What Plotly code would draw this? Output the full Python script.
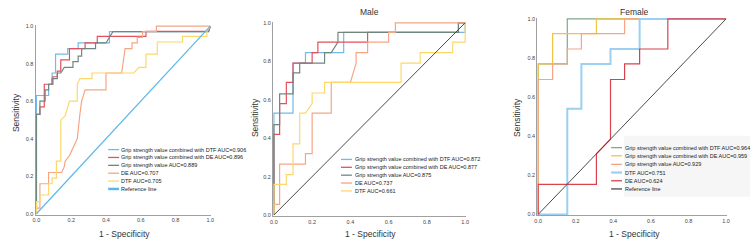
import plotly.graph_objects as go

W, H = 753, 249
FONT = "Arial, Liberation Sans, sans-serif"

tick_vals = [0.0, 0.2, 0.4, 0.6, 0.8, 1.0]
tick_text = ["0.0", "0.2", "0.4", "0.6", "0.8", "1.0"]

# ---------------- Panel 1 (overall) ----------------
p1_labels = [
    "Grip strength value combined with DTF AUC=0.906",
    "Grip strength value combined with DE AUC=0.896",
    "Grip strength value AUC=0.889",
    "DE AUC=0.707",
    "DTF AUC=0.705",
    "Reference line",
]
p1_comb_dtf_x = [0, 0, 0.07, 0.07, 0.09, 0.09, 0.11, 0.11, 0.18, 0.18, 0.24, 0.24, 0.42, 0.42, 0.99, 1.0]
p1_comb_dtf_y = [0, 0.63, 0.63, 0.69, 0.69, 0.75, 0.75, 0.85, 0.85, 0.88, 0.88, 0.91, 0.91, 0.97, 0.97, 1.0]
p1_comb_de_x = [0, 0, 0.02, 0.02, 0.045, 0.045, 0.095, 0.095, 0.12, 0.12, 0.14, 0.14, 0.19, 0.19, 0.28, 0.28, 0.35, 0.35, 0.63, 0.63, 0.99, 1.0]
p1_comb_de_y = [0, 0.53, 0.53, 0.57, 0.57, 0.69, 0.69, 0.73, 0.73, 0.76, 0.76, 0.82, 0.82, 0.88, 0.88, 0.91, 0.91, 0.945, 0.945, 0.972, 0.972, 1.0]
p1_grip_x = [0, 0, 0.02, 0.02, 0.05, 0.05, 0.07, 0.07, 0.09, 0.09, 0.12, 0.12, 0.14, 0.16, 0.21, 0.21, 0.24, 0.24, 0.26, 0.26, 0.34, 0.34, 0.40, 0.44, 0.99, 1.0]
p1_grip_y = [0, 0.53, 0.53, 0.60, 0.60, 0.66, 0.66, 0.69, 0.69, 0.72, 0.72, 0.75, 0.75, 0.78, 0.78, 0.81, 0.81, 0.84, 0.84, 0.88, 0.88, 0.91, 0.91, 0.97, 0.97, 1.0]
p1_de_x = [0, 0, 0.02, 0.02, 0.07, 0.07, 0.145, 0.16, 0.165, 0.19, 0.21, 0.235, 0.25, 0.26, 0.28, 0.30, 0.40, 0.40, 0.49, 0.51, 0.55, 0.55, 0.58, 0.58, 0.61, 0.61, 0.69, 0.69, 1.0]
p1_de_y = [0, 0.03, 0.03, 0.16, 0.16, 0.22, 0.22, 0.25, 0.28, 0.31, 0.35, 0.40, 0.53, 0.60, 0.66, 0.66, 0.66, 0.75, 0.75, 0.88, 0.88, 0.91, 0.91, 0.94, 0.94, 0.97, 0.97, 1.0, 1.0]
p1_dtf_x = [0, 0, 0.02, 0.02, 0.07, 0.07, 0.09, 0.09, 0.115, 0.115, 0.14, 0.14, 0.165, 0.19, 0.235, 0.235, 0.25, 0.32, 0.32, 0.56, 0.59, 0.63, 0.63, 0.695, 0.695, 0.84, 0.84, 0.98, 0.98, 1.0]
p1_dtf_y = [0, 0.065, 0.065, 0.10, 0.10, 0.16, 0.16, 0.19, 0.19, 0.28, 0.28, 0.50, 0.52, 0.60, 0.60, 0.69, 0.72, 0.72, 0.75, 0.75, 0.78, 0.78, 0.85, 0.85, 0.915, 0.915, 0.945, 0.945, 0.97, 1.0]
ref_x = [0, 1]
ref_y = [0, 1]

# ---------------- Panel 2 (male) ----------------
p2_title = "Male"
p2_labels = [
    "Grip strength value combined with DTF AUC=0.872",
    "Grip strength value combined with DE AUC=0.877",
    "Grip strength value AUC=0.875",
    "DE AUC=0.737",
    "DTF AUC=0.661",
]
p2_comb_dtf_x = [0, 0, 0.10, 0.10, 0.165, 0.165, 0.365, 0.365, 1.0, 1.0]
p2_comb_dtf_y = [0, 0.53, 0.53, 0.79, 0.79, 0.845, 0.845, 0.95, 0.95, 1.0]
p2_comb_de_x = [0, 0, 0.03, 0.03, 0.065, 0.065, 0.10, 0.10, 0.20, 0.20, 0.23, 0.23, 0.49, 0.49, 0.965, 0.965, 1.0]
p2_comb_de_y = [0, 0.42, 0.42, 0.58, 0.58, 0.69, 0.69, 0.79, 0.79, 0.845, 0.845, 0.90, 0.90, 0.95, 0.95, 1.0, 1.0]
p2_grip_x = [0, 0, 0.03, 0.03, 0.10, 0.10, 0.135, 0.135, 0.265, 0.265, 0.30, 0.335, 0.335, 0.965, 0.965, 1.0]
p2_grip_y = [0, 0.47, 0.47, 0.63, 0.63, 0.74, 0.74, 0.79, 0.79, 0.845, 0.845, 0.90, 0.95, 0.95, 1.0, 1.0]
p2_de_x = [0, 0, 0.03, 0.03, 0.165, 0.165, 0.20, 0.20, 0.30, 0.30, 0.40, 0.43, 0.43, 0.49, 0.49, 0.60, 0.60, 0.635, 0.635, 1.0]
p2_de_y = [0, 0.055, 0.055, 0.265, 0.265, 0.32, 0.32, 0.53, 0.53, 0.69, 0.69, 0.79, 0.845, 0.845, 0.90, 0.90, 0.95, 0.95, 1.0, 1.0]
p2_dtf_x = [0, 0, 0.065, 0.065, 0.10, 0.10, 0.135, 0.135, 0.165, 0.20, 0.20, 0.265, 0.265, 0.665, 0.665, 0.765, 0.765, 0.935, 0.935, 1.0, 1.0]
p2_dtf_y = [0, 0.16, 0.16, 0.21, 0.21, 0.37, 0.37, 0.53, 0.53, 0.58, 0.635, 0.635, 0.69, 0.69, 0.79, 0.79, 0.845, 0.845, 0.90, 0.90, 1.0]

# ---------------- Panel 3 (female) ----------------
p3_title = "Female"
p3_labels = [
    "Grip strength value combined with DTF AUC=0.964",
    "Grip strength value combined with DE AUC=0.959",
    "Grip strength value AUC=0.929",
    "DTF AUC=0.751",
    "DE AUC=0.624",
    "Reference line",
]
p3_comb_dtf_x = [0, 0, 0.155, 0.155, 1.0]
p3_comb_dtf_y = [0, 0.77, 0.77, 1.0, 1.0]
p3_comb_de_x = [0, 0, 0.077, 0.077, 0.31, 0.31, 1.0]
p3_comb_de_y = [0, 0.77, 0.77, 0.925, 0.925, 1.0, 1.0]
p3_grip_x = [0, 0, 0.077, 0.077, 0.155, 0.155, 0.23, 0.23, 0.46, 0.46, 1.0]
p3_grip_y = [0, 0.69, 0.69, 0.77, 0.77, 0.846, 0.846, 0.925, 0.925, 1.0, 1.0]
p3_dtf_x = [0, 0.155, 0.155, 0.23, 0.23, 0.385, 0.385, 0.54, 0.54, 1.0]
p3_dtf_y = [0, 0, 0.54, 0.54, 0.77, 0.77, 0.846, 0.846, 1.0, 1.0]
p3_de_x = [0, 0, 0.31, 0.31, 0.385, 0.385, 0.46, 0.46, 0.54, 0.54, 0.69, 0.69, 1.0]
p3_de_y = [0, 0.154, 0.154, 0.31, 0.385, 0.69, 0.69, 0.77, 0.77, 0.846, 0.846, 1.0, 1.0]

# ---------------- styling ----------------
C_BLUE = "#74b9e7"
C_RED = "#e4505b"
C_GRAYGREEN = "#6f877e"
C_ORANGE = "#f6a585"
C_YELLOW = "#fcd86c"
C_REF1 = "#5cb7e8"
C_DARK = "#4a4a4a"
C_GREEN3 = "#7fa88a"
C_GOLD3 = "#f3c347"
C_LBLUE3 = "#9ccff2"
C_RED3 = "#d8424f"

# draw order follows legend order (later on top)
p1_series = [
    (p1_comb_dtf_x, p1_comb_dtf_y, C_BLUE, 1.2),
    (p1_comb_de_x, p1_comb_de_y, C_RED, 1.2),
    (p1_grip_x, p1_grip_y, C_GRAYGREEN, 1.2),
    (p1_de_x, p1_de_y, C_ORANGE, 1.2),
    (p1_dtf_x, p1_dtf_y, C_YELLOW, 1.2),
    (ref_x, ref_y, C_REF1, 1.2),
]
p1_leg_colors = [(C_BLUE, 1.3), (C_RED, 1.3), (C_GRAYGREEN, 1.3), (C_ORANGE, 1.3), (C_YELLOW, 1.3), (C_REF1, 2.5)]

p2_series = [
    (p2_comb_dtf_x, p2_comb_dtf_y, C_BLUE, 1.2),
    (p2_comb_de_x, p2_comb_de_y, C_RED, 1.2),
    (p2_grip_x, p2_grip_y, C_GRAYGREEN, 1.2),
    (p2_de_x, p2_de_y, C_ORANGE, 1.2),
    (p2_dtf_x, p2_dtf_y, C_YELLOW, 1.2),
    (ref_x, ref_y, C_DARK, 1.0),
]
p2_leg_colors = [(C_BLUE, 1.3), (C_RED, 1.3), (C_GRAYGREEN, 1.3), (C_ORANGE, 1.3), (C_YELLOW, 1.3)]

p3_series = [
    (p3_comb_dtf_x, p3_comb_dtf_y, C_GREEN3, 1.2),
    (p3_comb_de_x, p3_comb_de_y, C_GOLD3, 1.2),
    (p3_grip_x, p3_grip_y, C_ORANGE, 1.2),
    (p3_dtf_x, p3_dtf_y, C_LBLUE3, 2.0),
    (p3_de_x, p3_de_y, C_RED3, 1.2),
    (ref_x, ref_y, C_DARK, 1.0),
]
p3_leg_colors = [(C_GREEN3, 1.3), (C_GOLD3, 1.3), (C_ORANGE, 1.3), (C_LBLUE3, 2.2), (C_RED3, 1.3), (C_DARK, 1.3)]


def px(x):
    return x / W


def py(y):
    return 1 - y / H


fig = go.Figure()

panels = [
    (p1_series, "", (33, 210), (23.3, 216)),
    (p2_series, "2", (272.3, 467), (20, 217.3)),
    (p3_series, "3", (538.7, 730), (16, 216.7)),
]

layout_axes = {}
for series, suf, (x0, x1), (y0, y1) in panels:
    for xs, ys, col, w in series:
        fig.add_trace(go.Scatter(
            x=xs, y=ys, mode="lines", line=dict(color=col, width=w),
            xaxis="x" + suf, yaxis="y" + suf, showlegend=False, hoverinfo="skip"))
    common = dict(
        range=[-0.004, 1.006], showgrid=False, zeroline=False, showline=True,
        linecolor="#a0a0a0", linewidth=1.4, ticks="", tickvals=tick_vals,
        ticktext=tick_text, tickfont=dict(size=5.5, color="#444", family=FONT),
        fixedrange=True,
    )
    layout_axes["xaxis" + suf] = dict(common, domain=[px(x0), px(x1)], anchor="y" + suf)
    layout_axes["yaxis" + suf] = dict(common, domain=[py(y1), py(y0)], anchor="x" + suf)

fig.update_layout(**layout_axes)

annotations = []
shapes = []


def text(x, y, s, size, angle=0, xanchor="center", color="#333"):
    annotations.append(dict(
        x=px(x), y=py(y), xref="paper", yref="paper", text=s, showarrow=False,
        font=dict(size=size, color=color, family=FONT), textangle=angle,
        xanchor=xanchor, yanchor="middle", borderpad=0))


# axis titles and panel titles
text(13, 112, "Sensitivity", 8.5, angle=-90)
text(122, 236, "1 - Specificity", 8.5)
text(254, 117, "Sensitivity", 8.5, angle=-90)
text(370, 236, "1 - Specificity", 8.5)
text(518, 117, "Sensitivity", 8.5, angle=-90)
text(637, 236, "1 - Specificity", 8.5)
text(369, 10, p2_title, 8.5)
text(637, 10.5, p3_title, 8.5)

# light legend background for panel 3
shapes.append(dict(type="rect", xref="paper", yref="paper",
                   x0=px(626), x1=px(753), y0=py(198), y1=py(136),
                   fillcolor="#f6f6f6", line=dict(width=0), layer="below"))


def legend(labels, colors, lx0, lx1, tx, rows, size):
    for lab, (col, w), ry in zip(labels, colors, rows):
        shapes.append(dict(type="line", xref="paper", yref="paper",
                           x0=px(lx0), x1=px(lx1), y0=py(ry), y1=py(ry),
                           line=dict(color=col, width=w)))
        text(tx, ry, lab, size, xanchor="left", color="#222")


legend(p1_labels, p1_leg_colors, 106, 117, 118, [150, 158, 166, 174, 182, 190], 5.5)
legend(p2_labels, p2_leg_colors, 340.7, 351.7, 353.5, [160, 168, 176, 184, 192], 5.5)
legend(p3_labels, p3_leg_colors, 613, 624, 626, [148, 156.3, 165, 173.3, 181.7, 190], 5.5)

fig.update_layout(
    width=W, height=H, margin=dict(l=0, r=0, t=0, b=0),
    paper_bgcolor="white", plot_bgcolor="white",
    annotations=annotations, shapes=shapes, showlegend=False,
    font=dict(family=FONT),
)

fig.write_html(
    "out.html",
    config={"displayModeBar": False},
    post_script="document.body.style.margin='0';document.body.style.padding='0';",
)
